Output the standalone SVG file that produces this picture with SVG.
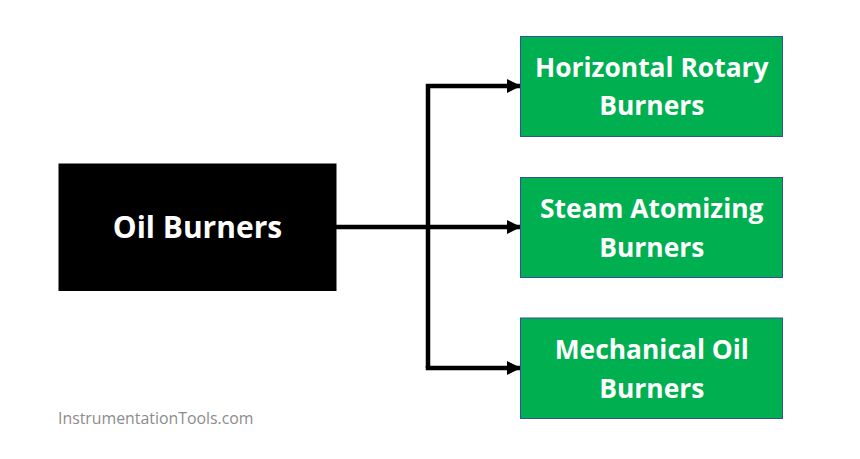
<svg xmlns="http://www.w3.org/2000/svg" width="860" height="459" viewBox="0 0 860 459">
<style>
.box{fill:#00b050;stroke:#2f5597;stroke-width:1}
.t{font-family:"Open Sans","Noto Sans",sans-serif;font-weight:700;font-size:26.4px;fill:#fff;text-anchor:middle}
.c{fill:none;stroke:#000;stroke-width:4.500}
</style>
<defs><marker id="a" markerUnits="userSpaceOnUse" markerWidth="15" markerHeight="16" refX="14" refY="8" orient="auto"><path d="M0 1L14 8L0 15Z" fill="#000"/></marker></defs>
<rect width="860" height="459" fill="#fff"/>
<g id="connectors">
<path class="c" d="M336 227H521" marker-end="url(#a)"/>
<path class="c" d="M428 368V86H521" marker-end="url(#a)"/>
<path class="c" d="M425.750 368H521" marker-end="url(#a)"/>
</g>
<g id="oil"><rect x="58.500" y="163.500" width="278" height="127.500" fill="#000"/><text style="font-size:30px" class="t" x="197.500" y="238">Oil Burners</text></g>
<g id="horizontal"><rect class="box" x="520.500" y="36.500" width="262" height="100"/><text class="t" x="651.800" y="77">Horizontal Rotary</text><text class="t" x="651.800" y="115">Burners</text></g>
<g id="steam"><rect class="box" x="520.500" y="177.500" width="262" height="100"/><text class="t" x="651.800" y="218">Steam Atomizing</text><text class="t" x="651.800" y="257">Burners</text></g>
<g id="mechanical"><rect class="box" x="520.500" y="318" width="262" height="100.500"/><text class="t" x="651.800" y="359">Mechanical Oil</text><text class="t" x="651.800" y="398">Burners</text></g>
<text x="58" y="424" font-family="Open Sans,Noto Sans,sans-serif" font-size="15.850" fill="#8c8c8c">InstrumentationTools.com</text>
</svg>
